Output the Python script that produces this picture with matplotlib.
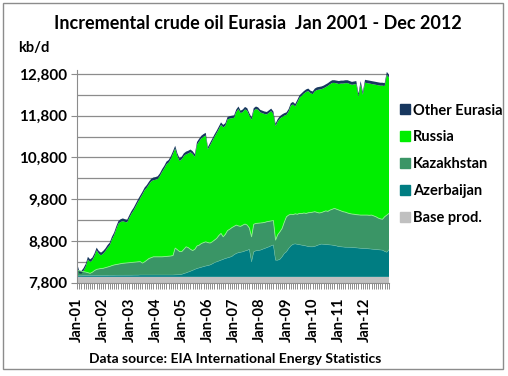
import numpy as np
import matplotlib
matplotlib.use("Agg")
import matplotlib.pyplot as plt
from matplotlib.lines import Line2D
from matplotlib.patches import Rectangle

plt.rcParams['font.family'] = ['Lato', 'DejaVu Sans']
plt.rcParams['font.weight'] = 'bold'

# monthly, Jan 2001 .. Dec 2012, kb/d, tops of each stacked layer
base_prod = 7940

azerbaijan_top = [
    7960, 7965, 7965, 7970, 7970, 7970, 7975, 7975, 7975, 7975, 7975, 7975,
    7975, 7975, 7975, 7978, 7978, 7978, 7980, 7980, 7980, 7980, 7980, 7980,
    7980, 7980, 7982, 7982, 7982, 7985, 7985, 7985, 7985, 7985, 7985, 7985,
    7985, 7985, 7985, 7985, 7985, 7985, 7985, 7985, 7985, 7988, 7990, 7992,
    8000, 8020, 8035, 8055, 8075, 8095, 8120, 8140, 8155, 8170, 8185, 8200,
    8210, 8225, 8250, 8280, 8300, 8320, 8340, 8360, 8380, 8395, 8410, 8430,
    8470, 8500, 8520, 8530, 8540, 8560, 8575, 8600, 8300, 8540, 8565, 8570,
    8580, 8600, 8620, 8640, 8660, 8685, 8705, 8340, 8340, 8360, 8420, 8500,
    8540, 8620, 8680, 8720, 8730, 8720, 8710, 8700, 8690, 8680, 8665, 8660,
    8660, 8670, 8690, 8710, 8725, 8720, 8715, 8710, 8705, 8700, 8690, 8680,
    8665, 8660, 8655, 8650, 8650, 8648, 8645, 8640, 8635, 8630, 8625, 8620,
    8620, 8615, 8610, 8605, 8600, 8595, 8590, 8585, 8580, 8550, 8530, 8590,
]

kazakhstan_top = [
    8090, 8085, 8075, 8065, 8055, 8040, 8025, 8050, 8090, 8120, 8130, 8140,
    8145, 8160, 8175, 8190, 8210, 8225, 8235, 8245, 8255, 8265, 8270, 8275,
    8280, 8285, 8290, 8295, 8300, 8305, 8270, 8300, 8340, 8380, 8400, 8420,
    8420, 8420, 8420, 8420, 8425, 8430, 8435, 8440, 8450, 8630, 8590, 8545,
    8545, 8600, 8660, 8640, 8600, 8570, 8600, 8680, 8700, 8740, 8760, 8780,
    8760, 8750, 8780, 8820, 8860, 8930, 8980, 8900, 8960, 9050, 9080, 9120,
    9150, 9180, 9160, 9150, 9180, 9205, 9180, 9110, 8900, 9200, 9220, 9225,
    9230, 9235, 9245, 9260, 9270, 9280, 9290, 8820, 8950, 9020, 9100, 9250,
    9380, 9420, 9440, 9430, 9450, 9440, 9460, 9455, 9470, 9460, 9475, 9480,
    9490, 9500, 9485, 9470, 9480, 9500, 9520, 9510, 9540, 9560, 9580, 9560,
    9540, 9520, 9500, 9490, 9470, 9455, 9445, 9440, 9430, 9425, 9420, 9420,
    9420, 9420, 9415, 9420, 9400, 9380, 9350, 9330, 9320, 9380, 9420, 9460,
]

total = [
    8260, 8090, 8080, 8150, 8250, 8420, 8360, 8400, 8500, 8640, 8560, 8520,
    8560, 8620, 8700, 8760, 8900, 9000, 9150, 9280, 9320, 9340, 9320, 9310,
    9420, 9520, 9600, 9700, 9800, 9890, 9980, 10080, 10140, 10220, 10290, 10320,
    10330, 10350, 10420, 10520, 10600, 10700, 10740, 10830, 10950, 11080, 10900, 10780,
    10820, 10900, 10940, 10960, 10990, 10950, 10880, 11170, 11250, 11320, 11360, 11390,
    11050, 11150, 11250, 11350, 11440, 11540, 11640, 11580, 11620, 11770, 11790, 11800,
    11810, 11950, 12020, 11920, 11950, 12010, 11980, 11860, 11760, 11980, 12020, 12000,
    11940, 11920, 11900, 11890, 11930, 11970, 11900, 11610, 11720, 11790, 11830, 11860,
    11880, 11960, 12100, 12130, 12080, 12180, 12290, 12340, 12390, 12430, 12450, 12400,
    12380, 12450, 12480, 12490, 12500, 12520, 12550, 12580, 12620, 12650, 12650, 12640,
    12630, 12640, 12640, 12650, 12650, 12630, 12610, 12620, 12630, 12330, 12630, 12370,
    12660, 12650, 12640, 12630, 12620, 12610, 12600, 12590, 12590, 12580, 12850, 12780,
]

other_eurasia = [
    65, 65, 65, 65, 65, 65, 65, 65, 65, 65, 65, 65,
    65, 65, 65, 65, 65, 65, 65, 65, 65, 65, 65, 65,
    65, 65, 65, 65, 65, 65, 65, 65, 65, 65, 65, 65,
    65, 65, 65, 65, 65, 65, 65, 65, 65, 65, 65, 65,
    65, 65, 65, 65, 65, 65, 65, 65, 65, 65, 65, 65,
    60, 60, 60, 60, 60, 60, 60, 60, 60, 60, 60, 60,
    60, 60, 60, 60, 60, 60, 60, 60, 60, 60, 60, 60,
    60, 60, 60, 60, 60, 60, 60, 60, 60, 60, 60, 60,
    60, 60, 60, 60, 60, 60, 60, 60, 60, 60, 60, 60,
    65, 65, 65, 65, 65, 65, 65, 65, 65, 65, 65, 65,
    70, 70, 70, 70, 70, 70, 70, 70, 70, 70, 70, 70,
    70, 70, 70, 70, 70, 70, 70, 70, 70, 70, 70, 70,
]

year_labels = ['Jan-01', 'Jan-02', 'Jan-03', 'Jan-04', 'Jan-05', 'Jan-06',
               'Jan-07', 'Jan-08', 'Jan-09', 'Jan-10', 'Jan-11', 'Jan-12']
y_ticks = [7800, 8800, 9800, 10800, 11800, 12800]

series_names = ['Other Eurasia', 'Russia', 'Kazakhstan', 'Azerbaijan', 'Base prod.']
colors = {'Other Eurasia': '#17375E', 'Russia': '#00EE00', 'Kazakhstan': '#3A9566',
          'Azerbaijan': '#007D82', 'Base prod.': '#C0C0C0'}

# layer thicknesses
az = np.array(azerbaijan_top, dtype=float)
kz_top = np.array(kazakhstan_top, dtype=float)
tot = np.array(total, dtype=float)
oth = np.array(other_eurasia, dtype=float)
n = len(tot)
x = np.arange(n)
base = np.full(n, base_prod, dtype=float)
layers = [base, az - base, kz_top - az, tot - oth - kz_top, oth]
layer_colors = [colors['Base prod.'], colors['Azerbaijan'], colors['Kazakhstan'],
                colors['Russia'], colors['Other Eurasia']]

fig = plt.figure(figsize=(5.08, 3.76), dpi=100)
ax = fig.add_axes([0.1516, 0.2481, 0.6142, 0.5663])

ax.stackplot(x, *layers, colors=layer_colors, linewidth=0)
# faint light edges between layers like the original
ax.plot(x, kz_top, color='#8CF08C', lw=0.6)
ax.plot(x, az, color='#5FB8A0', lw=0.4)

ax.set_xlim(0, n - 1)
ax.set_ylim(7800, 12900)

ax.set_yticks(y_ticks)
ax.set_yticklabels([f'{v:,}' for v in y_ticks], fontsize=11, fontweight='bold')
ax.set_yticks(np.arange(7800, 12801, 500), minor=True)
ax.yaxis.grid(True, which='both', color='#8C8C8C', lw=0.9)
ax.set_axisbelow(True)
ax.tick_params(axis='y', which='major', length=4, color='#8C8C8C', pad=3)
ax.tick_params(axis='y', which='minor', length=0)

ax.set_xticks(np.arange(0, n, 12))
ax.set_xticklabels(year_labels, rotation=90, fontsize=10.5, fontweight='bold')
ax.set_xticks(x, minor=True)
ax.tick_params(axis='x', which='both', length=4, color='#8C8C8C', width=0.7, pad=7)

for s in ['top', 'right']:
    ax.spines[s].set_visible(False)
for s in ['left', 'bottom']:
    ax.spines[s].set_color('#8C8C8C')

fig.text(0.508, 0.938, 'Incremental crude oil Eurasia  Jan 2001 - Dec 2012',
         ha='center', va='center', fontsize=13, fontweight='bold')
fig.text(0.067, 0.872, 'kb/d', ha='center', va='center', fontsize=10.5, fontweight='bold')
fig.text(0.463, 0.045, 'Data source: EIA International Energy Statistics',
         ha='center', va='center', fontsize=10, fontweight='bold')

handles = [Line2D([], [], ls='none', marker='s', markersize=7,
                  markerfacecolor=colors[nm], markeredgecolor=colors[nm]) for nm in series_names]
fig.legend(handles, series_names, loc='upper left', bbox_to_anchor=(0.772, 0.74),
           frameon=False, fontsize=10.5, handletextpad=0.1, labelspacing=0.88,
           handlelength=0.9, borderaxespad=0)

fig.patches.append(Rectangle((0.006, 0.019), 0.985, 0.972, transform=fig.transFigure,
                             fill=False, edgecolor='#8C8C8C', lw=1))

fig.savefig('out.png', dpi=100)
